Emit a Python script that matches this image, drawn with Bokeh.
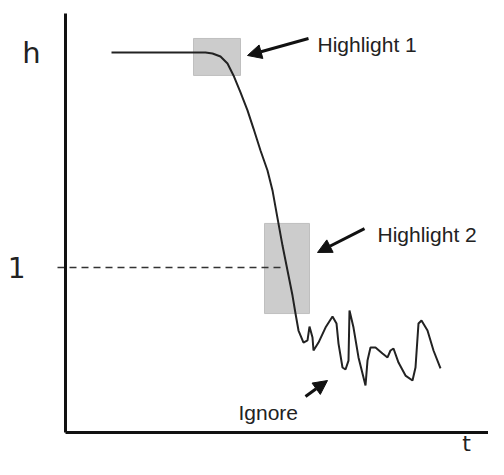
from bokeh.plotting import figure
from bokeh.models import Range1d, FixedTicker, Label, Arrow, NormalHead
from bokeh.embed import file_html
from bokeh.resources import INLINE

# ---- data (t, h in chart units) ----
curve_t = [1.15, 2.375, 3.5, 3.675, 3.875, 4.05, 4.2, 4.375, 4.55, 4.7, 4.875, 5.05,
           5.175, 5.275, 5.425, 5.55, 5.675, 5.75, 5.825, 5.95, 6.05, 6.1, 6.175, 6.2,
           6.325, 6.5, 6.675, 6.775, 6.825, 6.925, 7.0, 7.075, 7.1, 7.2, 7.325, 7.5,
           7.55, 7.625, 7.75, 7.925, 8.05, 8.125, 8.2, 8.325, 8.5, 8.675, 8.75, 8.825,
           8.9, 9.05, 9.2, 9.375]
curve_h = [2.303, 2.303, 2.303, 2.297, 2.279, 2.236, 2.164, 2.061, 1.952, 1.842, 1.709, 1.588,
           1.467, 1.333, 1.133, 0.982, 0.830, 0.721, 0.618, 0.545, 0.558, 0.642, 0.576, 0.497,
           0.545, 0.636, 0.703, 0.661, 0.539, 0.394, 0.382, 0.436, 0.739, 0.636, 0.455, 0.285,
           0.436, 0.515, 0.515, 0.479, 0.455, 0.497, 0.509, 0.424, 0.345, 0.315, 0.394, 0.661,
           0.679, 0.618, 0.497, 0.388]

box_left = [3.2, 4.975]
box_right = [4.375, 6.1]
box_bottom = [2.164, 0.721]
box_top = [2.388, 1.267]

threshold_h = 1
threshold_t = [-0.2, 5.4]

note_text = ["Highlight 1", "Highlight 2", "Ignore"]
note_t = [6.3, 7.8, 4.325]
note_h = [2.352, 1.2, 0.121]
arrow_t0 = [6.075, 7.475, 6.0]
arrow_h0 = [2.388, 1.236, 0.218]
arrow_t1 = [4.55, 6.3, 6.55]
arrow_h1 = [2.285, 1.091, 0.315]

axis_names = ["h", "t"]
axis_name_t = [-0.85, 10.025]
axis_name_h = [2.303, -0.14]
axis_name_size = ["29px", "22px"]
axis_name_baseline = ["alphabetic", "bottom"]

h_axis_top = 2.5394
t_axis_end = 10.575

p = figure(width=488, height=459, output_backend="svg", toolbar_location=None,
           x_range=Range1d(-1.625, 10.575), y_range=Range1d(-0.16364, 2.61818),
           min_border=0, min_border_left=0, min_border_right=0,
           min_border_top=0, min_border_bottom=0)
p.background_fill_color = "white"
p.border_fill_color = "white"
p.outline_line_color = None
p.grid.visible = False

p.xaxis.fixed_location = 0
p.xaxis.bounds = (0, t_axis_end)
p.xaxis.ticker = FixedTicker(ticks=[])
p.xaxis.axis_line_width = 3
p.xaxis.axis_line_color = "#111111"
p.xaxis.major_label_text_color = None

p.yaxis.fixed_location = 0
p.yaxis.bounds = (0, h_axis_top)
p.yaxis.ticker = FixedTicker(ticks=[threshold_h])
p.yaxis.axis_line_width = 3
p.yaxis.axis_line_color = "#111111"
p.yaxis.major_tick_in = 0
p.yaxis.major_tick_out = 0
p.yaxis.major_label_standoff = 40
p.yaxis.major_label_text_font = "DejaVu Sans"
p.yaxis.major_label_text_font_size = "28px"
p.yaxis.major_label_text_color = "#222222"

p.quad(left=box_left, right=box_right, bottom=box_bottom, top=box_top,
       fill_color="#cccccc", line_color="#bfbfbf", line_width=1)

p.line(x=threshold_t, y=[threshold_h, threshold_h], line_color="#333333",
       line_width=1.6, line_dash="7 5")

p.line(x=curve_t, y=curve_h, line_color="#222222", line_width=2)

for i in range(len(note_text)):
    p.add_layout(Arrow(end=NormalHead(size=14, fill_color="#111111", line_color="#111111"),
                       x_start=arrow_t0[i], y_start=arrow_h0[i],
                       x_end=arrow_t1[i], y_end=arrow_h1[i],
                       line_width=3, line_color="#111111"))
    p.add_layout(Label(x=note_t[i], y=note_h[i], text=note_text[i],
                       text_font="Liberation Sans", text_font_size="21px",
                       text_color="#222222", text_baseline="alphabetic", text_align="left"))

for i in range(len(axis_names)):
    p.add_layout(Label(x=axis_name_t[i], y=axis_name_h[i], text=axis_names[i],
                       text_font="DejaVu Sans", text_font_size=axis_name_size[i],
                       text_color="#222222", text_baseline=axis_name_baseline[i],
                       text_align="center"))

open("out.html", "w").write(file_html(p, INLINE))
